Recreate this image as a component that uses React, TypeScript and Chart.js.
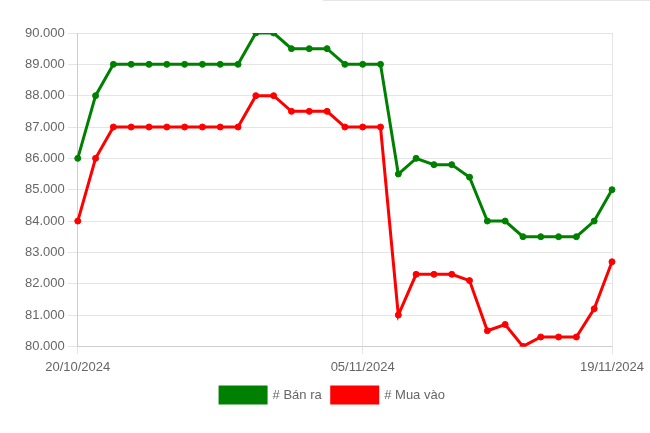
import React, { useEffect, useRef } from "react";
import { Chart, registerables } from "chart.js";

Chart.register(...registerables);

const dates = [
  "20/10/2024", "21/10/2024", "22/10/2024", "23/10/2024", "24/10/2024", "25/10/2024",
  "26/10/2024", "27/10/2024", "28/10/2024", "29/10/2024", "30/10/2024", "31/10/2024",
  "01/11/2024", "02/11/2024", "03/11/2024", "04/11/2024", "05/11/2024", "06/11/2024",
  "07/11/2024", "08/11/2024", "09/11/2024", "10/11/2024", "11/11/2024", "12/11/2024",
  "13/11/2024", "14/11/2024", "15/11/2024", "16/11/2024", "17/11/2024", "18/11/2024",
  "19/11/2024",
];

const shownDates = ["20/10/2024", "05/11/2024", "19/11/2024"];

const banRa = [
  86000, 88000, 89000, 89000, 89000, 89000, 89000, 89000, 89000, 89000, 90000,
  90000, 89500, 89500, 89500, 89000, 89000, 89000, 85500, 86000, 85800, 85800,
  85400, 84000, 84000, 83500, 83500, 83500, 83500, 84000, 85000,
];

const muaVao = [
  84000, 86000, 87000, 87000, 87000, 87000, 87000, 87000, 87000, 87000, 88000,
  88000, 87500, 87500, 87500, 87000, 87000, 87000, 81000, 82300, 82300, 82300,
  82100, 80500, 80700, 80000, 80300, 80300, 80300, 81200, 82700,
];

const yMin = 80000;
const yMax = 90000;
const yStep = 1000;

const fmt = (v: number) => String(v).replace(/\B(?=(\d{3})+(?!\d))/g, ".");

export default function App() {
  const ref = useRef<HTMLCanvasElement | null>(null);

  useEffect(() => {
    if (!ref.current) return;
    const font = { family: "'Liberation Sans', Arial, sans-serif", size: 13 };
    const chart = new Chart(ref.current, {
      type: "line",
      data: {
        labels: dates,
        datasets: [
          {
            label: "# Bán ra",
            data: banRa,
            borderColor: "#008000",
            backgroundColor: "#008000",
            borderWidth: 3,
            pointRadius: 3,
            pointBorderWidth: 1,
            tension: 0,
            fill: false,
          },
          {
            label: "# Mua vào",
            data: muaVao,
            borderColor: "#ff0000",
            backgroundColor: "#ff0000",
            borderWidth: 3,
            pointRadius: 3,
            pointBorderWidth: 1,
            tension: 0,
            fill: false,
          },
        ],
      },
      options: {
        animation: false,
        responsive: true,
        maintainAspectRatio: false,
        layout: { padding: { left: 22, right: 7, top: 33, bottom: 20 } },
        scales: {
          x: {
            type: "category",
            grid: { color: "rgba(0,0,0,0.1)", tickLength: 8 },
            ticks: { color: "#666", font, autoSkip: false, maxRotation: 0, padding: 5 },
            afterBuildTicks: (scale: any) => {
              scale.ticks = scale.ticks.filter((t: any) =>
                shownDates.includes(dates[t.value])
              );
            },
            afterFit: (scale: any) => {
              scale.height -= 3;
              scale.paddingRight = 38;
            },
          },
          y: {
            min: yMin,
            max: yMax,
            grid: { color: "rgba(0,0,0,0.1)", tickLength: 10 },
            ticks: {
              stepSize: yStep,
              color: "#666",
              font,
              padding: 3,
              callback: (v: any) => fmt(Number(v)),
            },
          },
        },
        plugins: {
          legend: {
            position: "bottom",
            labels: { color: "#666", font, boxWidth: 46, boxHeight: 16, padding: 10 },
          },
          tooltip: { enabled: false },
        },
      },
    });
    return () => chart.destroy();
  }, []);

  return (
    <div style={{ position: "fixed", left: 0, top: 0, width: 650, height: 433, background: "#fff" }}>
      <div style={{ position: "absolute", left: 323, top: 0, width: 327, height: 1, background: "#e6e6e6" }} />
      <canvas ref={ref} />
    </div>
  );
}
